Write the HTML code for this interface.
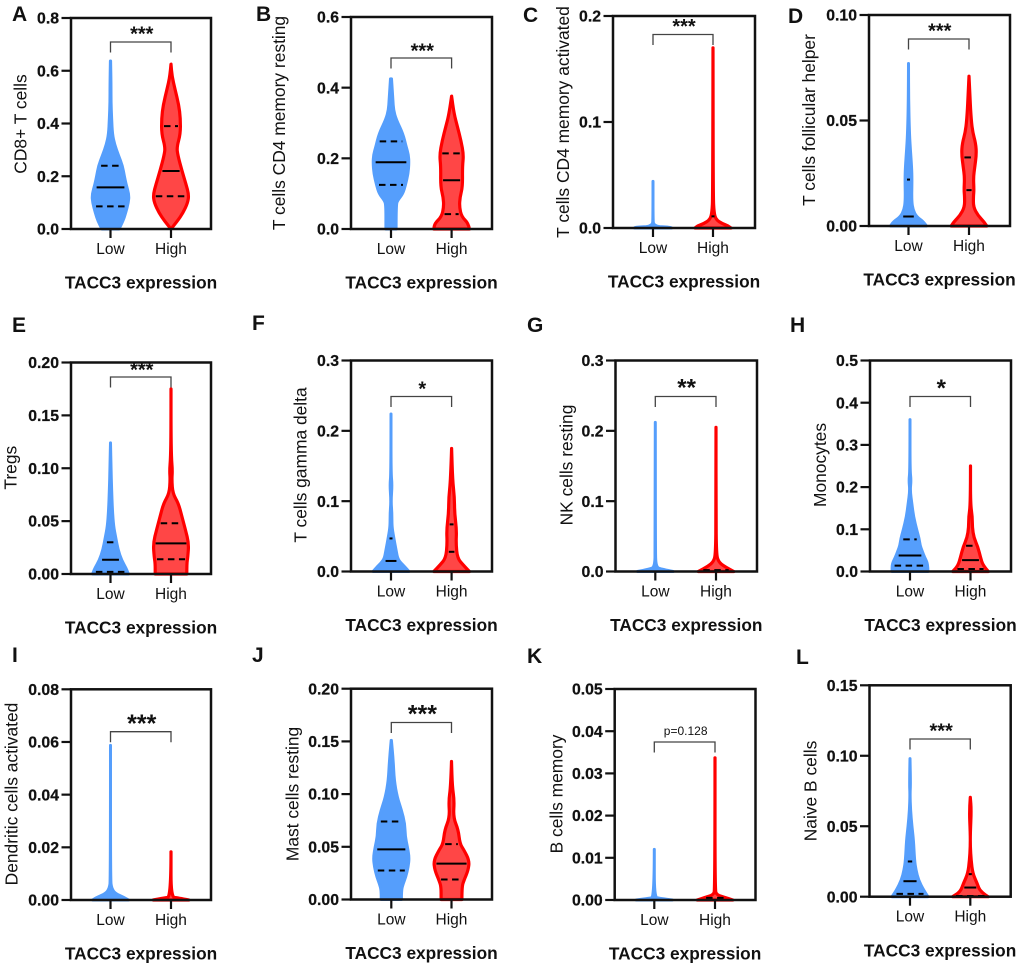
<!DOCTYPE html>
<html lang="en">
<head>
<meta charset="utf-8">
<title>TACC3 expression and immune cell infiltration violin plots</title>
<style>
html,body{margin:0;padding:0;background:#fff;}
#figure{display:block;width:1020px;height:968px;background:#fff;filter:blur(0.3px);}
text{font-family:"Liberation Sans",Arial,sans-serif;fill:#111;}
</style>
</head>
<body>
<svg id="figure" xmlns="http://www.w3.org/2000/svg" width="1020" height="968" viewBox="0 0 1020 968"></svg>
<script>
const panelLetters = ["A","B","C","D","E","F","G","H","I","J","K","L"];
const categories = ["Low","High"];
const xAxisTitle = "TACC3 expression";
const yTitles = ["CD8+ T cells","T cells CD4 memory resting","T cells CD4 memory activated","T cells follicular helper","Tregs","T cells gamma delta","NK cells resting","Monocytes","Dendritic cells activated","Mast cells resting","B cells memory","Naive B cells"];
const yTickLabels = [
  ["0.0","0.2","0.4","0.6","0.8"],
  ["0.0","0.2","0.4","0.6"],
  ["0.0","0.1","0.2"],
  ["0.00","0.05","0.10"],
  ["0.00","0.05","0.10","0.15","0.20"],
  ["0.0","0.1","0.2","0.3"],
  ["0.0","0.1","0.2","0.3"],
  ["0.0","0.1","0.2","0.3","0.4","0.5"],
  ["0.00","0.02","0.04","0.06","0.08"],
  ["0.00","0.05","0.10","0.15","0.20"],
  ["0.00","0.01","0.02","0.03","0.04","0.05"],
  ["0.00","0.05","0.10","0.15"]
];
const significance = ["***","***","***","***","***","*","**","*","***","***","p=0.128","***"];

const lowValuesA = [0,.03,.06,.1,.13,.17,.2,.24,.28,.32,.36,.42,.48,.55,.637];
const lowDensityA = [.5,.7,.83,.97,1,.85,.77,.67,.47,.28,.17,.13,.1,.1,.08];
const highValuesA = [0,.03,.06,.1,.13,.17,.22,.28,.31,.36,.42,.47,.53,.58,.625];
const highDensityA = [.05,.4,.67,.92,.97,.83,.63,.42,.37,.55,.55,.47,.28,.13,.06];

const lowValuesB = [0,.07,.082,.1,.125,.157,.186,.21,.233,.27,.31,.337,.365,.425];
const lowDensityB = [.33,.33,.42,.67,.8,.93,.97,.95,.83,.67,.33,.2,.17,.1];
const highValuesB = [0,.016,.035,.063,.09,.12,.176,.21,.25,.29,.327,.376];
const highDensityB = [.97,.92,.58,.47,.5,.63,.62,.68,.55,.37,.2,.06];

const lowValuesC = [0,.0008,.0015,.01,.044];
const lowDensityC = [1,.95,.1,.06,.05];
const highValuesC = [0,.002,.004,.008,.015,.03,.17];
const highDensityC = [.98,.85,.55,.22,.13,.09,.06];

const lowValuesD = [0,.002,.0044,.0076,.012,.022,.028,.036,.044,.06,.077];
const lowDensityD = [.97,.83,.47,.3,.23,.25,.23,.17,.12,.08,.05];
const highValuesD = [0,.002,.005,.009,.014,.017,.023,.028,.034,.039,.045,.053,.063,.071];
const highDensityD = [.97,.83,.53,.3,.3,.33,.3,.37,.45,.42,.25,.17,.12,.05];

const lowValuesE = [0,.005,.013,.023,.035,.045,.06,.08,.1,.124];
const lowDensityE = [.97,.87,.63,.45,.33,.23,.17,.13,.1,.07];
const highValuesE = [0,.01,.016,.029,.042,.054,.067,.076,.089,.098,.11,.136,.175];
const highDensityE = [.87,.87,.92,.97,.8,.63,.45,.17,.12,.15,.1,.08,.05];

const lowValuesF = [0,.007,.0165,.03,.05,.064,.083,.1,.123,.14,.224];
const lowDensityF = [.97,.75,.42,.33,.2,.12,.12,.07,.13,.05,.05];
const highValuesF = [0,.009,.019,.04,.059,.083,.106,.13,.175];
const highDensityF = [.97,.67,.37,.3,.33,.23,.22,.13,.08];

const lowValuesG = [0,.003,.006,.035,.212];
const lowDensityG = [.97,.42,.1,.08,.05];
const highValuesG = [0,.007,.014,.025,.082,.205];
const highDensityG = [.97,.5,.2,.1,.08,.05];

const lowValuesH = [0,.018,.034,.05,.062,.078,.097,.13,.16,.192,.216,.24,.36];
const lowDensityH = [.97,.97,.8,.67,.58,.53,.42,.25,.17,.08,.13,.05,.05];
const highValuesH = [0,.014,.034,.058,.08,.105,.13,.16,.25];
const highDensityH = [.97,.7,.58,.45,.25,.17,.17,.08,.05];

const lowValuesI = [0,.001,.0025,.0045,.0076,.0587];
const lowDensityI = [.97,.75,.3,.13,.07,.05];
const highValuesI = [0,.0008,.0011,.0183];
const highDensityI = [.97,.42,.08,.05];

const lowValuesJ = [0,.009,.015,.0215,.031,.04,.05,.06,.072,.085,.097,.113,.132,.151];
const lowDensityJ = [.58,.58,.67,.8,.92,.97,.88,.77,.75,.58,.37,.22,.17,.08];
const highValuesJ = [0,.012,.018,.028,.037,.047,.053,.066,.078,.094,.107,.131];
const highDensityJ = [.6,.6,.7,.92,.97,.7,.5,.42,.17,.22,.12,.05];

const lowValuesK = [0,.0004,.0007,.012];
const lowDensityK = [.97,.33,.07,.05];
const highValuesK = [0,.0006,.0012,.0024,.0337];
const highDensityK = [.97,.58,.17,.08,.05];

const lowValuesL = [0,.0047,.0118,.019,.026,.04,.05,.0615,.073,.08,.098];
const lowDensityL = [.97,.75,.5,.37,.3,.25,.17,.1,.07,.1,.05];
const highValuesL = [0,.0035,.0095,.0166,.026,.0355,.045,.0615,.0705];
const highDensityL = [.97,.58,.42,.2,.12,.08,.07,.13,.05];

const lowValues = [lowValuesA,lowValuesB,lowValuesC,lowValuesD,lowValuesE,lowValuesF,lowValuesG,lowValuesH,lowValuesI,lowValuesJ,lowValuesK,lowValuesL];
const lowDensity = [lowDensityA,lowDensityB,lowDensityC,lowDensityD,lowDensityE,lowDensityF,lowDensityG,lowDensityH,lowDensityI,lowDensityJ,lowDensityK,lowDensityL];
const highValues = [highValuesA,highValuesB,highValuesC,highValuesD,highValuesE,highValuesF,highValuesG,highValuesH,highValuesI,highValuesJ,highValuesK,highValuesL];
const highDensity = [highDensityA,highDensityB,highDensityC,highDensityD,highDensityE,highDensityF,highDensityG,highDensityH,highDensityI,highDensityJ,highDensityK,highDensityL];

const lowQuartiles = [[.086,.158,.24],[.125,.189,.248],[0,0,0],[0,.0045,.022],[.002,.0135,.03],[0,.015,.047],[0,0,0],[.014,.038,.076],[0,0,0],[.0275,.0475,.074],[0,0,0],[.002,.011,.025]];
const highQuartiles = [[.124,.22,.39],[.042,.138,.214],[0,0,.011],[0,.017,.0325],[.014,.029,.048],[0,.028,.067],[0,0,.002],[.006,.027,.061],[0,0,0],[.019,.034,.0525],[0,0,.0005],[.0005,.0065,.016]];

/* Layout only (page geometry, not chart data) */
const layout = [
  {l:71,r:211,t:18,b:229,lo:110.5,hi:171,br:42,tx:26.7,ty:124,lx:12,ly:21,sf:20,sd:11},
  {l:351,r:492,t:17,b:229,lo:391,hi:451.6,br:58,tx:285,ty:123,lx:256,ly:21,sf:20,sd:10},
  {l:613,r:755,t:16,b:228,lo:653,hi:713,br:34.5,tx:569,ty:122,lx:523,ly:22,sf:20,sd:11},
  {l:869,r:1010,t:15,b:226,lo:908.5,hi:969,br:39,tx:815,ty:120,lx:788,ly:23,sf:20,sd:11},
  {l:71,r:211,t:362.5,b:574,lo:110.5,hi:171,br:377,tx:16.7,ty:467.7,lx:12,ly:332,sf:20,sd:10},
  {l:351,r:492,t:360.5,b:571.5,lo:391,hi:451.6,br:396.5,tx:306.7,ty:465,lx:252,ly:330,sf:20,sd:10.5},
  {l:615.5,r:757,t:360.5,b:571.5,lo:655.3,hi:716,br:396.5,tx:572.5,ty:465,lx:527,ly:332,sf:24,sd:12.5},
  {l:870,r:1011,t:360.5,b:571.5,lo:910,hi:970.5,br:396.5,tx:826,ty:465,lx:790,ly:332,sf:24,sd:12},
  {l:71,r:211,t:689.3,b:900,lo:110.5,hi:171,br:731.7,tx:17.5,ty:794,lx:12,ly:662,sf:25,sd:11.7},
  {l:351,r:492,t:688.7,b:899.5,lo:391.3,hi:451.5,br:722.5,tx:298.3,ty:794,lx:252,ly:662,sf:25,sd:12},
  {l:614.7,r:755.5,t:689,b:900,lo:654.3,hi:715,br:742,tx:562.7,ty:794,lx:527,ly:663,sf:12,sd:11},
  {l:869.5,r:1010.7,t:685.3,b:896.7,lo:910,hi:970.3,br:739,tx:816.7,ty:791,lx:796,ly:664,sf:20,sd:11}
];

const NS = "http://www.w3.org/2000/svg";
const svg = document.getElementById("figure");
const MAX_HALF_WIDTH = 20;

function make(parent, tag, attrs, txt) {
  const el = document.createElementNS(NS, tag);
  for (const k in attrs) el.setAttribute(k, attrs[k]);
  if (txt !== undefined) el.textContent = txt;
  parent.appendChild(el);
  return el;
}
function densityAt(vals, dens, v) {
  if (v <= vals[0]) return dens[0];
  for (let i = 1; i < vals.length; i++) {
    if (v <= vals[i]) {
      const f = (v - vals[i-1]) / (vals[i] - vals[i-1]);
      return dens[i-1] + f * (dens[i] - dens[i-1]);
    }
  }
  return 0;
}
function smoothSide(pts, start) {
  let d = (start ? "M" : "L") + pts[0][0].toFixed(2) + " " + pts[0][1].toFixed(2);
  for (let i = 1; i < pts.length - 1; i++) {
    const mx = (pts[i][0] + pts[i+1][0]) / 2, my = (pts[i][1] + pts[i+1][1]) / 2;
    d += "Q" + pts[i][0].toFixed(2) + " " + pts[i][1].toFixed(2) + " " + mx.toFixed(2) + " " + my.toFixed(2);
  }
  const e = pts[pts.length-1];
  d += "L" + e[0].toFixed(2) + " " + e[1].toFixed(2);
  return d;
}

panelLetters.forEach(function (letter, p) {
  const f = layout[p];
  const ticks = yTickLabels[p];
  const yMax = parseFloat(ticks[ticks.length-1]);
  const yScale = function (v) { return f.b - (v / yMax) * (f.b - f.t); };
  const widthScale = function (d, sw) { return Math.max(0, d * MAX_HALF_WIDTH - sw / 2); };

  const g = make(svg, "g", {});
  
  

  const letterEl = make(g, "text", {x:f.lx, y:f.ly, "font-size":21, "font-weight":"bold", fill:"#000"}, letter);
  
  

  const yTitle = make(g, "text", {transform:"translate(" + f.tx + " " + f.ty + ") rotate(-90)", "text-anchor":"middle", "font-size":17.4}, yTitles[p]);
  
  

  [0, 1].forEach(function (c) {
    const cx = c === 0 ? f.lo : f.hi;
    const vals = c === 0 ? lowValues[p] : highValues[p];
    const dens = c === 0 ? lowDensity[p] : highDensity[p];
    const quart = c === 0 ? lowQuartiles[p] : highQuartiles[p];
    const sw = c === 0 ? 3 : 3.2;
    const right = vals.map(function (v, i) { return [cx + widthScale(dens[i], sw), yScale(v)]; });
    const left = vals.map(function (v, i) { return [cx - widthScale(dens[i], sw), yScale(v)]; }).reverse();
    const violin = make(g, "path", {
      d: smoothSide(right, true) + smoothSide(left, false) + "Z",
      fill: c === 0 ? "#559EFC" : "#FF4646",
      stroke: c === 0 ? "#559EFC" : "#FF0000",
      "stroke-width": sw,
      "stroke-linejoin": "round"
    });
    
    

    quart.forEach(function (q, k) {
      if (q <= 0) return;
      const hw = Math.max(1.5, densityAt(vals, dens, q) * MAX_HALF_WIDTH - 4);
      const attrs = {x1:cx-hw, x2:cx+hw, y1:yScale(q), y2:yScale(q), stroke:"#000", "stroke-width":2};
      if (k !== 1) attrs["stroke-dasharray"] = "6.5 4.5";
      const line = make(g, "line", attrs);
      
      
    });

    const tick = make(g, "line", {x1:cx, x2:cx, y1:f.b, y2:f.b+9, stroke:"#111", "stroke-width":2.2});
    
    

    const label = make(g, "text", {x:cx, y:f.b+25, "text-anchor":"middle", "font-size":15.5}, categories[c]);
    
    
  });

  const frame = make(g, "rect", {x:f.l, y:f.t, width:f.r-f.l, height:f.b-f.t, fill:"none", stroke:"#111", "stroke-width":2.5});
  
  

  ticks.forEach(function (lab) {
    const y = yScale(parseFloat(lab));
    const tick = make(g, "line", {x1:f.l-9.5, x2:f.l, y1:y, y2:y, stroke:"#111", "stroke-width":2.2});
    
    
    const t = make(g, "text", {x:f.l-12, y:y+5.6, "text-anchor":"end", "font-size":15.8, "font-weight":"bold", stroke:"#111", "stroke-width":0.25}, lab);
    
    
  });

  const bracket = make(g, "path", {d:"M" + f.lo + " " + (f.br+10.5) + "V" + f.br + "H" + f.hi + "V" + (f.br+10.5), fill:"none", stroke:"#444", "stroke-width":1.3});
  
  

  const mid = (f.lo + f.hi) / 2 + 1;
  const isP = significance[p].charAt(0) === "p";
  const baseline = isP ? f.br - f.sd + 4 : f.br - f.sd + f.sf * 0.47;
  const sig = make(g, "text", {x:mid, y:baseline, "text-anchor":"middle", "font-size":f.sf, "font-weight":isP ? "normal" : "bold"}, significance[p]);
  
  

  const xTitle = make(g, "text", {x:(f.l+f.r)/2, y:f.b+59.7, "text-anchor":"middle", "font-size":17.3, "font-weight":"bold"}, xAxisTitle);
  
  
});
</script>
</body>
</html>
